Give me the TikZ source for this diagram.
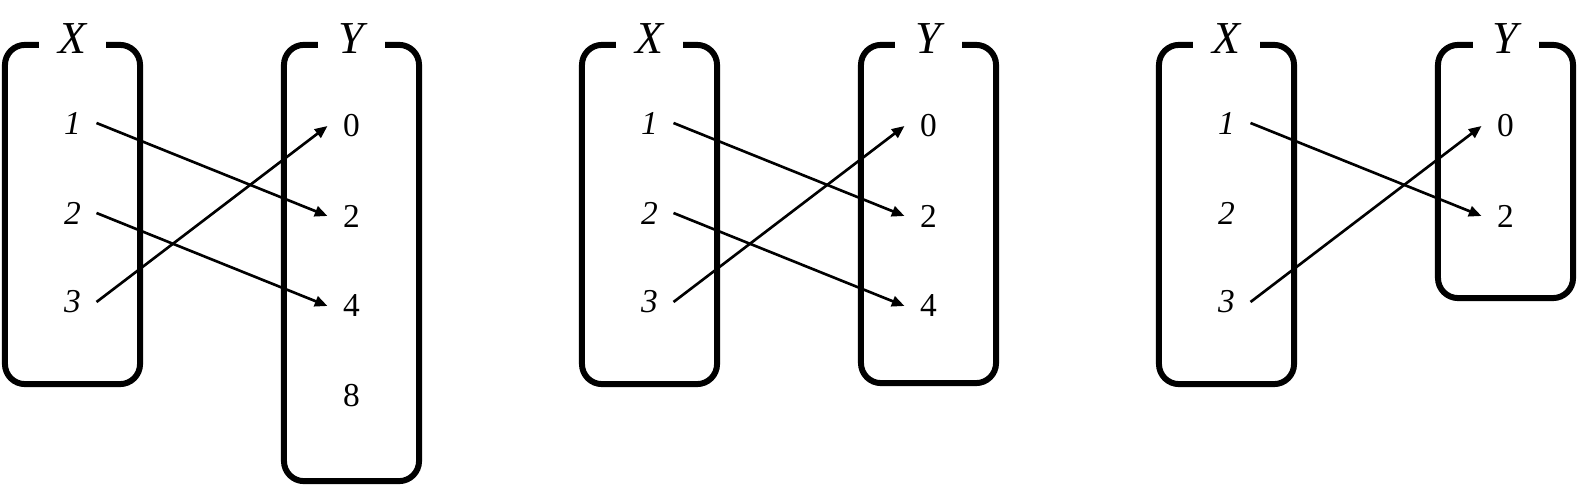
\documentclass[tikz,border=0pt]{standalone}
\usepackage{fontspec}
\setmainfont{Liberation Serif}
\usetikzlibrary{arrows.meta}

\begin{document}
\begin{tikzpicture}[
  x=0.01cm, y=-0.01cm,
  setbox/.style = {draw, line width=1.7pt, rounded corners=0.2cm,
    minimum width=1.35cm, inner sep=0pt, outer sep=0pt},
  setlbl/.style = {fill=white, font=\fontsize{13}{15}\selectfont\itshape,
    minimum width=0.66cm, inner sep=2pt, anchor=base, yshift=-0.083cm},
  domlbl/.style = {font=\fontsize{9.5}{11}\selectfont\itshape,
    minimum width=0.48cm, inner sep=0pt, outer sep=0pt},
  codlbl/.style = {font=\fontsize{9.5}{11}\selectfont,
    minimum width=0.48cm, inner sep=0pt, outer sep=0pt},
  mapto/.style = {-{Triangle[length=3.6pt, width=3pt]}, line width=0.75pt}
]
  \useasboundingbox (0,0) rectangle (1579,485);
  % domain X, the same in all three panels
  \foreach \p/\dx in {1/0, 2/577, 3/1154} {
    \node[setbox, minimum height=3.39cm] (X\p) at (72.5+\dx, 214.5) {};
    \node[setlbl] (lx\p) at (X\p.north) {X};
    \foreach \i/\y in {1/123, 2/213, 3/302}
      \node[domlbl] (x\p\i) at (72.5+\dx, \y) {\i};
  }
  % codomain Y, panel 1
  \node[setbox, minimum height=4.36cm] (Y1) at (351.5, 263) {};
  \node[setlbl] (ly1) at (Y1.north) {Y};
  \foreach \v/\y in {0/126, 2/216, 4/306, 8/396}
    \node[codlbl] (y1\v) at (351.5, \y) {\v};
  % codomain Y, panel 2
  \node[setbox, minimum height=3.38cm] (Y2) at (928.5, 214) {};
  \node[setlbl] (ly2) at (Y2.north) {Y};
  \foreach \v/\y in {0/126, 2/216, 4/306}
    \node[codlbl] (y2\v) at (928.5, \y) {\v};
  % codomain Y, panel 3
  \node[setbox, minimum height=2.53cm] (Y3) at (1505.5, 171.5) {};
  \node[setlbl] (ly3) at (Y3.north) {Y};
  \foreach \v/\y in {0/126, 2/216}
    \node[codlbl] (y3\v) at (1505.5, \y) {\v};
  % maps
  \draw[mapto] (x11.east) -- (y12.west);
  \draw[mapto] (x12.east) -- (y14.west);
  \draw[mapto] (x13.east) -- (y10.west);
  \draw[mapto] (x21.east) -- (y22.west);
  \draw[mapto] (x22.east) -- (y24.west);
  \draw[mapto] (x23.east) -- (y20.west);
  \draw[mapto] (x31.east) -- (y32.west);
  \draw[mapto] (x33.east) -- (y30.west);
\end{tikzpicture}
\end{document}
